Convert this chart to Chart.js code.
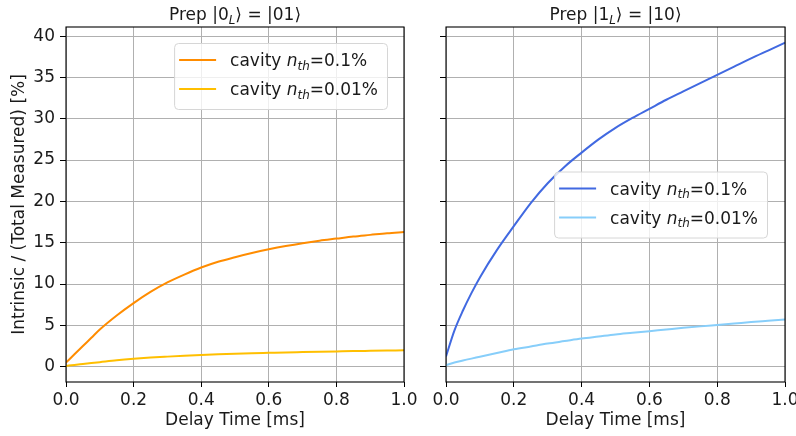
<!DOCTYPE html>
<html lang="en">
<head>
  <meta charset="UTF-8">
  <title>Intrinsic / Total Measured</title>
  <style>
    body { margin: 0; background: #fff; }
    #wrap { position: relative; width: 796px; height: 436px; }
    canvas { position: absolute; top: 0; }
  </style>
</head>
<body>
<div id="wrap">
  <canvas id="leftChart" width="420" height="436" style="left:0"></canvas>
  <canvas id="rightChart" width="376" height="436" style="left:420px"></canvas>
</div>
<script src="https://cdn.jsdelivr.net/npm/chart.js"></script>
<script>
// delay time in ms, shared by all curves
const delay = [0, 0.025, 0.05, 0.075, 0.1, 0.15, 0.2, 0.25, 0.3, 0.35, 0.4, 0.45, 0.5,
               0.55, 0.6, 0.65, 0.7, 0.75, 0.8, 0.85, 0.9, 0.95, 1.0]

// prep |0_L> = |01>
const prep0_nth01 = [0.5, 1.5, 2.5, 3.5, 4.5, 6.2, 7.7, 9.05, 10.2, 11.15, 12.0, 12.7, 13.25,
                     13.75, 14.2, 14.6, 14.95, 15.25, 15.5, 15.75, 15.95, 16.15, 16.3]
const prep0_nth001 = [0.1, 0.22, 0.33, 0.44, 0.55, 0.77, 0.95, 1.1, 1.22, 1.33, 1.42, 1.5, 1.57,
                      1.63, 1.68, 1.73, 1.77, 1.81, 1.85, 1.89, 1.92, 1.95, 1.98]

// prep |1_L> = |10>
const prep1_nth01 = [1.25, 4.4, 6.8, 8.9, 10.8, 14.1, 17.0, 19.8, 22.2, 24.2, 25.9, 27.5, 28.9,
                     30.1, 31.2, 32.3, 33.3, 34.3, 35.3, 36.3, 37.3, 38.25, 39.2]
const prep1_nth001 = [0.2, 0.5, 0.75, 0.98, 1.2, 1.65, 2.1, 2.45, 2.8, 3.1, 3.4, 3.65, 3.9,
                      4.1, 4.3, 4.5, 4.7, 4.88, 5.05, 5.22, 5.4, 5.55, 5.7]

const xTicks = [0, 0.2, 0.4, 0.6, 0.8, 1.0]
const yTicks = [0, 5, 10, 15, 20, 25, 30, 35, 40]
const legendLabels = ['0.1%', '0.01%']

const FONT = 'DejaVu Sans'
const FS = 17

function toPoints(ys) {
    return delay.map((x, i) => ({ x: x, y: ys[i] }))
}

// draw a run of text pieces, some italic, some subscript
function drawRich(ctx, parts, x, y, size) {
    let cx = x
    parts.forEach(p => {
        const s = p.sub ? size * 0.7 : size
        ctx.font = (p.it ? 'italic ' : '') + s + 'px "' + FONT + '"'
        ctx.fillText(p.t, cx, p.sub ? y + size * 0.22 : y)
        cx += ctx.measureText(p.t).width
    })
    return cx - x
}

function measureRich(ctx, parts, size) {
    let w = 0
    parts.forEach(p => {
        const s = p.sub ? size * 0.7 : size
        ctx.font = (p.it ? 'italic ' : '') + s + 'px "' + FONT + '"'
        w += ctx.measureText(p.t).width
    })
    return w
}

function legendParts(label) {
    return [{ t: 'cavity ' }, { t: 'n', it: true }, { t: 'th', it: true, sub: true }, { t: '=' + label }]
}

const decor = {
    id: 'decor',
    afterDatasetsDraw(chart, args, opts) {
        const ctx = chart.ctx
        const a = chart.chartArea
        ctx.save()
        ctx.textBaseline = 'alphabetic'
        ctx.fillStyle = '#1a1a1a'

        // title
        const tw = measureRich(ctx, opts.title, FS)
        drawRich(ctx, opts.title, (a.left + a.right) / 2 - tw / 2, 20, FS)

        // legend
        const rows = chart.data.datasets.map((d, i) => ({ color: d.borderColor, parts: legendParts(legendLabels[i]) }))
        const textW = Math.max(...rows.map(r => measureRich(ctx, r.parts, FS)))
        const w = 56 + textW + 9
        const h = 66
        const bx = a.right - opts.legendRight - w
        const by = opts.legendCenter ? (a.top + a.bottom) / 2 - h / 2 : a.top + opts.legendTop
        ctx.beginPath()
        ctx.roundRect(bx + 0.5, by + 0.5, w, h, 4)
        ctx.fillStyle = 'rgba(255,255,255,0.8)'
        ctx.fill()
        ctx.strokeStyle = '#d6d6d6'
        ctx.lineWidth = 1
        ctx.stroke()
        rows.forEach((r, i) => {
            const ry = by + 17 + i * 29
            ctx.beginPath()
            ctx.moveTo(bx + 5, ry)
            ctx.lineTo(bx + 42, ry)
            ctx.strokeStyle = r.color
            ctx.lineWidth = 2
            ctx.stroke()
            ctx.fillStyle = '#1a1a1a'
            drawRich(ctx, r.parts, bx + 56, ry + 6, FS)
        })

        // spines
        ctx.strokeStyle = '#000'
        ctx.lineWidth = 1.1
        ctx.strokeRect(a.left, a.top, a.right - a.left, a.bottom - a.top)
        ctx.restore()
    }
}

function makeScales(showYLabels, yWidth) {
    return {
        x: {
            type: 'linear',
            min: 0,
            max: 1,
            afterBuildTicks: s => { s.ticks = xTicks.map(v => ({ value: v })) },
            afterFit: s => { s.height = 54; s.paddingLeft = 0; s.paddingRight = 0 },
            grid: { color: '#b0b0b0', lineWidth: 1, tickLength: 5, tickColor: '#000' },
            border: { display: false },
            ticks: {
                color: '#1a1a1a', padding: 3, maxRotation: 0, autoSkip: false,
                font: { family: FONT, size: FS },
                callback: v => v.toFixed(1)
            },
            title: {
                display: true, text: 'Delay Time [ms]', color: '#1a1a1a',
                font: { family: FONT, size: FS, lineHeight: 1.2 },
                padding: { top: 0, bottom: 5 }
            }
        },
        y: {
            type: 'linear',
            min: -1.85,
            max: 41.1,
            afterBuildTicks: s => { s.ticks = yTicks.map(v => ({ value: v })) },
            afterFit: s => { s.width = yWidth; s.paddingTop = 0; s.paddingBottom = 0 },
            grid: { color: '#b0b0b0', lineWidth: 1, tickLength: 6, tickColor: '#000' },
            border: { display: false },
            ticks: {
                color: '#1a1a1a', padding: 5, autoSkip: false,
                font: { family: FONT, size: FS },
                callback: v => showYLabels ? String(v) : ''
            },
            title: {
                display: showYLabels, text: 'Intrinsic / (Total Measured) [%]', color: '#1a1a1a',
                font: { family: FONT, size: FS, lineHeight: 1.2 },
                padding: { top: 9, bottom: 0 }
            }
        }
    }
}

function lineSet(ys, color) {
    return {
        data: toPoints(ys),
        borderColor: color,
        borderWidth: 2,
        pointRadius: 0,
        fill: false,
        cubicInterpolationMode: 'monotone'
    }
}

new Chart(document.getElementById('leftChart'), {
    type: 'line',
    data: {
        datasets: [
            lineSet(prep0_nth01, '#ff8c00'),
            lineSet(prep0_nth001, '#ffbf00')
        ]
    },
    options: {
        responsive: false,
        animation: false,
        layout: { padding: { top: 27, right: 16, left: 0, bottom: 0 } },
        plugins: {
            legend: { display: false },
            tooltip: { enabled: false },
            decor: {
                title: [{ t: 'Prep |0' }, { t: 'L', it: true, sub: true }, { t: '\u27E9 = |01\u27E9' }],
                legendRight: 17, legendTop: 16
            }
        },
        scales: makeScales(true, 66)
    },
    plugins: [decor]
})

new Chart(document.getElementById('rightChart'), {
    type: 'line',
    data: {
        datasets: [
            lineSet(prep1_nth01, '#4169e1'),
            lineSet(prep1_nth001, '#87cefa')
        ]
    },
    options: {
        responsive: false,
        animation: false,
        layout: { padding: { top: 27, right: 11, left: 0, bottom: 0 } },
        plugins: {
            legend: { display: false },
            tooltip: { enabled: false },
            decor: {
                title: [{ t: 'Prep |1' }, { t: 'L', it: true, sub: true }, { t: '\u27E9 = |10\u27E9' }],
                legendRight: 18, legendCenter: true
            }
        },
        scales: makeScales(false, 26)
    },
    plugins: [decor]
})
</script>
</body>
</html>
